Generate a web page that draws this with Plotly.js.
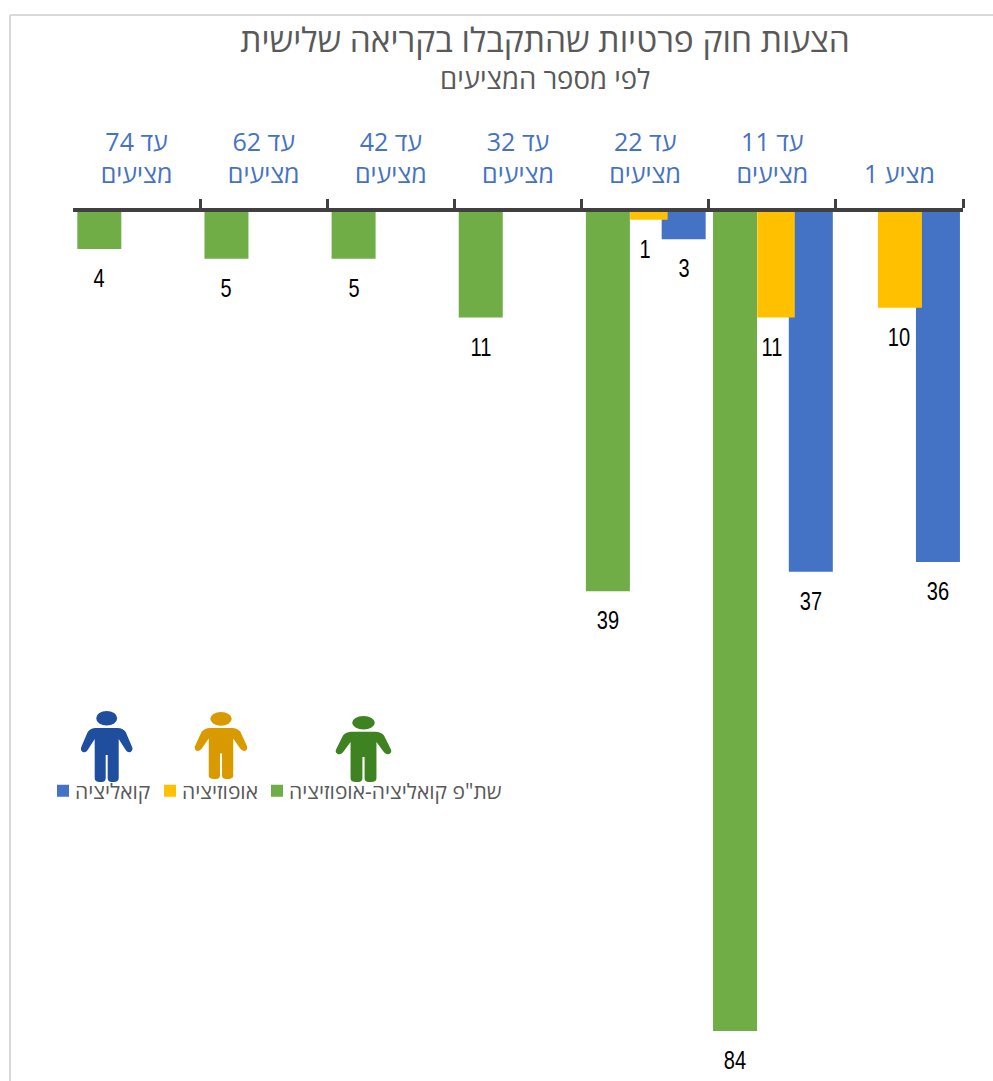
<!DOCTYPE html>
<html><head><meta charset="utf-8">
<script src="https://cdn.plot.ly/plotly-3.0.1.min.js"></script>
<style>html,body{margin:0;padding:0;background:#fff}#chart{width:993px;height:1081px}</style>
</head><body><div id="chart"></div>
<script>
const categories = ['מציע 1','עד 11<br>מציעים','עד 22<br>מציעים','עד 32<br>מציעים','עד 42<br>מציעים','עד 62<br>מציעים','עד 74<br>מציעים'];
const coalition = [36,37,3,null,null,null,null];
const opposition = [10,11,1,null,null,null,null];
const joint = [null,84,39,11,5,5,4];
const titleText = 'הצעות חוק פרטיות שהתקבלו בקריאה שלישית';
const subtitleText = 'לפי מספר המציעים';
const coalitionName = 'קואליציה';
const oppositionName = 'אופוזיציה';
const jointName = 'שת"פ קואליציה-אופוזיציה';

const W = 993, H = 1081, L = 73, R = 963, T = 212;
const px = x => (x - L) / (R - L);
const py = y => (H - y) / (H - T);
const hebrewFont = '"Open Sans","Liberation Sans",sans-serif';

function labels(values, off) {
  return values.map((v, i) => v === null ? null : {
    x: i + off, y: v, xref: 'x', yref: 'y', text: String(v), showarrow: false,
    yshift: -29, yanchor: 'middle', xanchor: 'center', captureevents: false,
    font: {family: '"Liberation Sans",sans-serif', size: 25, color: '#000'}
  }).filter(Boolean);
}

function person(cx, top, h, halfW, color) {
  const X = u => (px(cx + u * halfW / 25.5)).toFixed(5);
  const Y = v => (py(top + v * h / 71)).toFixed(5);
  const pt = (u, v) => X(u) + ',' + Y(v);
  const path = 'M' + pt(-11,17) + ' L' + pt(11,17) +
    ' Q' + pt(16,17) + ' ' + pt(19,21) + ' L' + pt(25,35) +
    ' Q' + pt(27,39) + ' ' + pt(24,41) + ' Q' + pt(21,42) + ' ' + pt(19,39) +
    ' L' + pt(12,28) + ' L' + pt(12,67) + ' Q' + pt(12,71) + ' ' + pt(7,71) +
    ' L' + pt(5,71) + ' Q' + pt(1,71) + ' ' + pt(1,67) + ' L' + pt(1,44) +
    ' L' + pt(-1,44) + ' L' + pt(-1,67) + ' Q' + pt(-1,71) + ' ' + pt(-5,71) +
    ' L' + pt(-7,71) + ' Q' + pt(-12,71) + ' ' + pt(-12,67) + ' L' + pt(-12,28) +
    ' L' + pt(-19,39) + ' Q' + pt(-21,42) + ' ' + pt(-24,41) + ' Q' + pt(-27,39) + ' ' + pt(-25,35) +
    ' L' + pt(-19,21) + ' Q' + pt(-16,17) + ' ' + pt(-11,17) + ' Z';
  return [
    {type:'path', xref:'paper', yref:'paper', path, fillcolor:color, line:{width:0}},
    {type:'circle', xref:'paper', yref:'paper', x0:X(-10.5), x1:X(10.5), y0:Y(0), y1:Y(14.5), fillcolor:color, line:{width:0}}
  ];
}

const base = {type:'bar', x:categories, hoverinfo:'skip'};
const blueT = {...base, name:coalitionName, y:coalition, offset:-0.476, width:0.346, marker:{color:'#4472C4', line:{width:0}}, legendrank:1};
const greenT = {...base, name:jointName, y:joint, offset:0.12, width:0.346, marker:{color:'#70AD47', line:{width:0}}, legendrank:3};
const yellowT = {...base, name:oppositionName, y:opposition, offset:-0.177, width:[0.346,0.295,0.295,0.295,0.295,0.295,0.295], marker:{color:'#FFC000', line:{width:0}}, legendrank:2};

const layout = {
  width: W, height: H, margin: {l:L, r:W-R, t:T, b:0, pad:0},
  paper_bgcolor:'#fff', plot_bgcolor:'rgba(0,0,0,0)',
  barmode:'overlay', showlegend:true,
  font:{family:hebrewFont, color:'#595959'},
  title:{text:titleText, x:545/W, xanchor:'center', y:1-40/H, yanchor:'middle', yref:'container', font:{size:33.5, color:'#595959', family:hebrewFont}},
  legend:{orientation:'h', x:px(35), xanchor:'left', y:py(791), yanchor:'middle', bgcolor:'rgba(0,0,0,0)', font:{size:21, color:'#595959', family:hebrewFont}, traceorder:'normal', itemclick:false, itemdoubleclick:false, entrywidth:62, entrywidthmode:'pixels'},
  xaxis:{type:'category', categoryorder:'array', categoryarray:categories, side:'top', autorange:false, range:[6.5,-0.5],
    tickson:'boundaries', ticks:'outside', ticklen:9, tickwidth:3, tickcolor:'#404040',
    showline:true, linecolor:'#404040', linewidth:4, showgrid:false, zeroline:false, tickangle:0,
    tickfont:{size:25, color:'#4472C4', family:hebrewFont}, ticklabelstandoff:15, fixedrange:true},
  yaxis:{autorange:false, range:[89.11,0.205], visible:false, showgrid:false, zeroline:false, fixedrange:true},
  annotations:[
    ...labels(coalition,-0.303), ...labels(opposition,0), ...labels(joint,0.293),
    {xref:'paper', yref:'paper', x:px(545), y:py(79), text:subtitleText, showarrow:false, xanchor:'center', yanchor:'middle', font:{size:27.5, color:'#595959', family:hebrewFont}}
  ],
  shapes:[
    {type:'line', xref:'paper', yref:'paper', x0:px(10), x1:px(10), y0:py(15), y1:py(1081), line:{color:'#D9D9D9', width:2}, layer:'below'},
    {type:'line', xref:'paper', yref:'paper', x0:px(10), x1:px(993), y0:py(15), y1:py(15), line:{color:'#D9D9D9', width:2}, layer:'below'},
    ...person(106.7, 711, 71, 25.5, '#1F4E9F'),
    ...person(221, 712, 67, 26, '#D99A00'),
    ...person(363.5, 716, 66, 27.5, '#3F8221')
  ]
};
Plotly.newPlot('chart',[blueT,greenT,yellowT],layout,{displayModeBar:false,responsive:false}).then(gd => {
  gd.querySelectorAll('.annotation-text').forEach(t => {
    if (/^\d+$/.test(t.textContent)) {
      t.setAttribute('textLength', (t.getComputedTextLength() * 0.8).toFixed(1));
      t.setAttribute('lengthAdjust', 'spacingAndGlyphs');
    }
  });
  document.querySelectorAll('clipPath[id^="legend"] rect').forEach(r => r.setAttribute('width', 600));
  gd.querySelectorAll('.legend .legendpoints').forEach(g => g.setAttribute('transform', 'translate(8,0)'));
});
</script></body></html>
